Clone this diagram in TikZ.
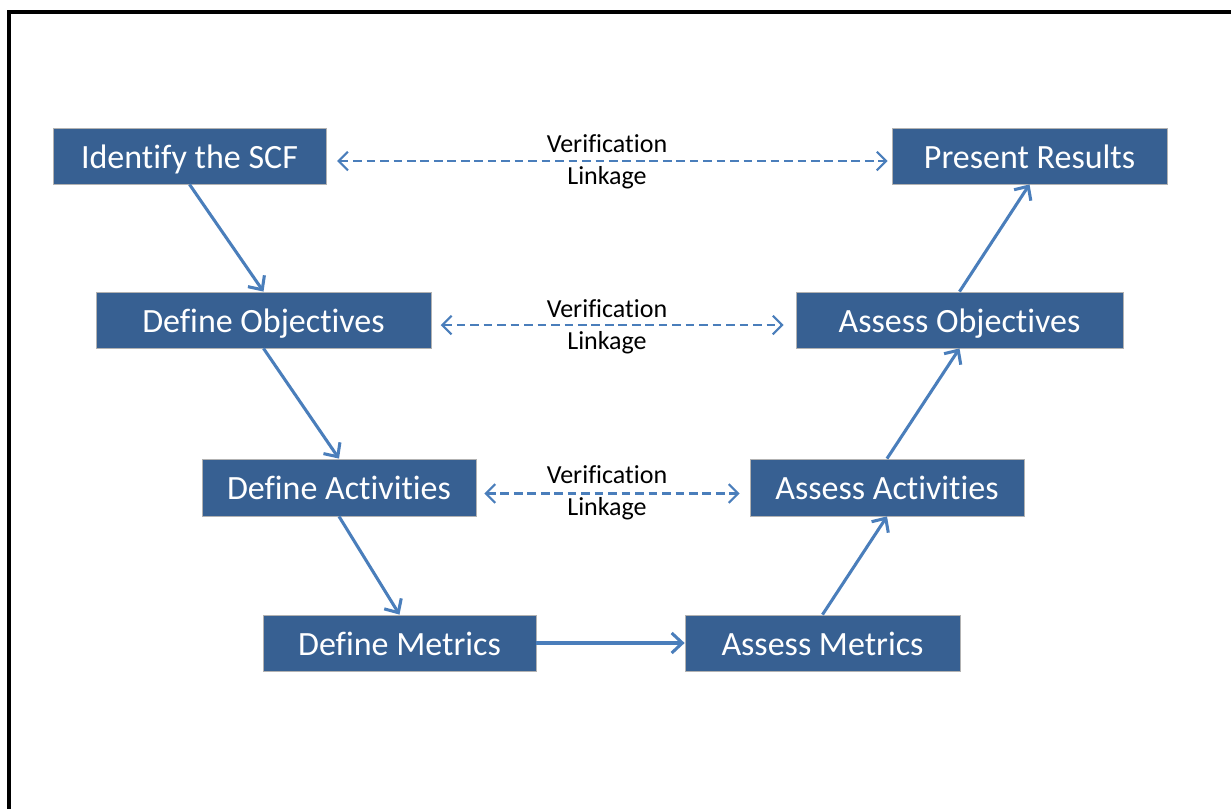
\documentclass[tikz,border=0pt]{standalone}
\usepackage{fontspec}
\setmainfont{Carlito}[Ligatures={NoCommon,NoRare}]
\usetikzlibrary{arrows.meta}
\definecolor{boxblue}{RGB}{55,96,146}
\definecolor{arrblue}{RGB}{74,126,187}
\tikzset{
  stage/.style={draw=gray!60,line width=0.6pt,fill=boxblue,text=white,inner sep=0pt,
    minimum height=42pt,text height=18.6pt,text depth=0pt,font=\fontsize{25.5}{28}\selectfont},
  flow/.style={draw=arrblue,line width=2.3pt,-{Straight Barb[length=8pt,width=15pt,line width=2.3pt]}},
  link/.style={draw=arrblue,line width=1.6pt,dash pattern=on 6.5pt off 3.6pt,
    {Straight Barb[length=7pt,width=14pt,line width=1.6pt]}-{Straight Barb[length=7pt,width=14pt,line width=1.6pt]}},
  lbl/.style={align=center,text=black,inner sep=0pt,font=\fontsize{19.5}{24}\selectfont}
}
\begin{document}
\begin{tikzpicture}[x=0.75pt,y=-0.75pt]
\useasboundingbox (0,0) rectangle (1231,809);
\draw[line width=3pt,line cap=rect] (9,809) -- (9,12) -- (1240,12);
% stages
\node[stage,minimum width=204.75pt] (id) at (189.5,156) {Identify the SCF};
\node[stage,minimum width=206.25pt] (pr) at (1029.5,156) {Present Results};
\node[stage,minimum width=251.25pt] (do) at (263.5,320) {Define Objectives};
\node[stage,minimum width=245.25pt] (ao) at (959.5,320) {Assess Objectives};
\node[stage,minimum width=205.5pt,minimum height=42.75pt] (da) at (339,487.5) {Define Activities};
\node[stage,minimum width=205.5pt,minimum height=42.75pt] (aa) at (887,487.5) {Assess Activities};
\node[stage,minimum width=204.75pt] (dm) at (399.5,643) {Define Metrics};
\node[stage,minimum width=206.25pt] (am) at (822.5,643) {Assess Metrics};
% flow arrows
\draw[flow] (id.south) -- (do.north);
\draw[flow] (do.south) -- (da.north);
\draw[flow] (da.south) -- (dm.north);
\draw[flow] (dm.east) -- (am.west);
\draw[flow] (am.north) -- (aa.south);
\draw[flow] (aa.north) -- (ao.south);
\draw[flow] (ao.north) -- (pr.south);
% verification links
\draw[link,shorten <=8pt,shorten >=3pt] ([yshift=-3.8pt]id.east) -- ([yshift=-3.8pt]pr.west);
\draw[link,shorten <=7pt,shorten >=9pt] ([yshift=-3.8pt]do.east) -- ([yshift=-3.8pt]ao.west);
\draw[link,shorten <=6pt,shorten >=7.5pt] ([yshift=-4.5pt]da.east) -- ([yshift=-4.5pt]aa.west);
\node[lbl] (l1) at (607,162) {Verification\\Linkage};
\node[lbl] (l2) at (607,327) {Verification\\Linkage};
\node[lbl] (l3) at (607,493) {Verification\\Linkage};
\end{tikzpicture}
\end{document}
